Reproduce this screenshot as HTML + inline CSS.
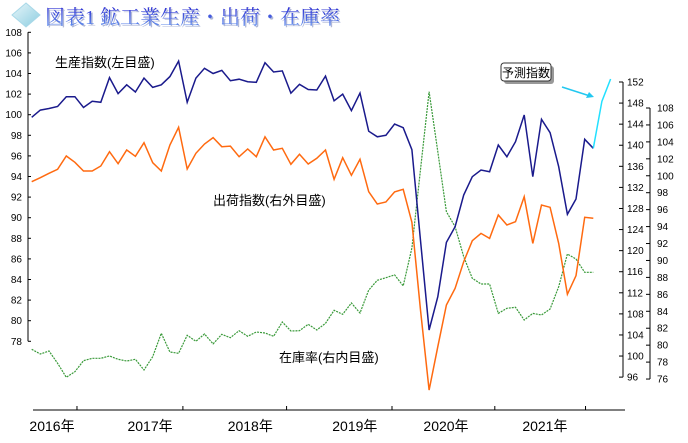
<!DOCTYPE html>
<html><head><meta charset="utf-8">
<style>
html,body{margin:0;padding:0;background:#fff;}
body{width:688px;height:443px;overflow:hidden;position:relative;font-family:"Liberation Sans","Noto Sans CJK JP",sans-serif;}
svg{position:absolute;left:0;top:0;}
</style></head>
<body>
<svg id="chart" width="688" height="443" viewBox="0 0 688 443">
<defs>
<linearGradient id="tg" x1="0" y1="0" x2="0" y2="1">
<stop offset="0" stop-color="#2a2ad0"/><stop offset="1" stop-color="#6a9cf0"/>
</linearGradient>
<linearGradient id="dg" x1="0" y1="0" x2="1" y2="1">
<stop offset="0" stop-color="#e8f6fa"/><stop offset="1" stop-color="#8ccde0"/>
</linearGradient>
</defs>
<g>
<polygon points="26,3 40,15 26,27 12,15" fill="url(#dg)" stroke="#a8d8e8"/>
<text x="45" y="24" font-family="'Liberation Serif','Noto Serif CJK SC',serif" font-size="20" fill="#b0b8d8" transform="translate(1.5,1.5)">図表1 鉱工業生産・出荷・在庫率</text>
<text x="45" y="24" font-family="'Liberation Serif','Noto Serif CJK SC',serif" font-size="20" fill="url(#tg)">図表1 鉱工業生産・出荷・在庫率</text>
</g>
<g id="axes"></g>
<g id="series"></g>
<text x="55" y="67" font-size="13" fill="#000">生産指数(左目盛)</text>
<text x="213" y="205" font-size="13" fill="#000">出荷指数(右外目盛)</text>
<text x="279" y="362" font-size="13" fill="#000">在庫率(右内目盛)</text>
<g>
<rect x="504" y="66" width="50" height="18" rx="3" fill="#999"/>
<rect x="501" y="63" width="50" height="18" rx="3" fill="#fff" stroke="#333"/>
<text x="526" y="77" font-size="12" text-anchor="middle" fill="#000">予測指数</text>
<line x1="562" y1="87" x2="590" y2="96" stroke="#22c8f0" stroke-width="1.5"/>
<polygon points="594,97 586,98 589,92" fill="#22c8f0"/>
</g>
</svg>
<script>
const prodValues=[99.75,100.45,100.6,100.8,101.75,101.75,100.7,101.3,101.2,103.6,102.05,102.9,102.2,103.55,102.65,102.9,103.7,105.2,101.2,103.55,104.5,104,104.3,103.3,103.45,103.2,103.15,105.05,104.15,104.25,102.1,102.95,102.45,102.4,103.75,101.35,102,100.4,102.1,98.4,97.85,98,99.1,98.74,96.6,87.8,79.1,82.33,87.6,89.13,92.2,93.98,94.63,94.47,97.06,95.92,97.38,99.97,93.98,99.55,98.25,94.95,90.33,91.82,97.61,96.74];
const forecastValues=[96.74,101.3,103.47];
const forecastStart=65;
const shipValues=[99.3,99.77,100.29,100.76,102.33,101.59,100.56,100.56,101.15,102.84,101.42,103.04,102.3,103.9,101.54,100.56,103.63,105.72,100.8,102.65,103.75,104.5,103.43,103.5,102.25,103.16,102.25,104.6,103.04,103.24,101.35,102.53,101.39,102.06,103.04,99.58,102.13,100.06,101.94,98.12,96.67,96.9,98.1,98.4,94.5,84.15,74.7,79.82,84.74,86.71,89.85,92.33,93.2,92.61,95.37,94.19,94.58,97.53,92.02,96.55,96.28,92.02,86,88.2,95.1,94.98];
const invValues=[101.28,100.39,100.96,98.62,95.97,97.03,99.12,99.57,99.57,100.01,99.38,99.06,99.38,97.35,99.88,104.32,100.77,100.52,103.93,102.8,104.18,102.3,104.13,103.48,104.81,103.75,104.56,104.37,103.75,106.46,104.75,104.81,106.02,104.94,106.21,108.67,107.92,110.06,108.16,112.52,114.37,114.86,115.4,113.3,120.5,135.4,150.16,138.78,127.39,124.54,118.85,114.75,113.67,113.67,108.1,109.06,109.25,106.84,108.1,107.79,108.93,113.16,119.36,118.41,115.89,115.89];
const leftTicks=[78,80,82,84,86,88,90,92,94,96,98,100,102,104,106,108];
const innerTicks=[96,100,104,108,112,116,120,124,128,132,136,140,144,148,152];
const outerTicks=[76,78,80,82,84,86,88,90,92,94,96,98,100,102,104,106,108];
const yearLabels=["2016年","2017年","2018年","2019年","2020年","2021年"];
const yearCenters=[2.35,13.7,25.3,37.4,47.95,59.4];
const yearTicks=[5.24,17.5,29.5,41.7,53.6,64.1];

const NS="http://www.w3.org/2000/svg";
const xi=i=>31.7+i*8.64;
const yL=v=>32.3+(108-v)*10.3;
const yO=v=>108+(108-v)*8.47;
const yI=v=>82+(152-v)*5.27;
function mk(tag,attrs,parent){const e=document.createElementNS(NS,tag);for(const k in attrs)e.setAttribute(k,attrs[k]);parent.appendChild(e);return e;}
const axes=document.getElementById('axes');
const ser=document.getElementById('series');

let la=mk('line',{x1:28,y1:yL(108),x2:28,y2:yL(78),stroke:'#000'},axes);


leftTicks.forEach(v=>{
 const t=mk('line',{x1:28,y1:yL(v),x2:31,y2:yL(v),stroke:'#000'},axes);
 
 
 const l=mk('text',{x:22,y:yL(v)+3.5,'font-size':10,'text-anchor':'end',fill:'#000'},axes);
 l.textContent=v;
 
 
});
let ia=mk('line',{x1:623,y1:yI(152),x2:623,y2:yI(96),stroke:'#000'},axes);


innerTicks.forEach(v=>{
 const t=mk('line',{x1:619,y1:yI(v),x2:623,y2:yI(v),stroke:'#000'},axes);
 
 
 const l=mk('text',{x:627,y:yI(v)+3.5,'font-size':10,fill:'#000'},axes);
 l.textContent=v;
 
 
});
let oa=mk('line',{x1:650,y1:yO(108),x2:650,y2:yO(76),stroke:'#000'},axes);


outerTicks.forEach(v=>{
 const t=mk('line',{x1:646,y1:yO(v),x2:650,y2:yO(v),stroke:'#000'},axes);
 
 
 const l=mk('text',{x:657,y:yO(v)+3.5,'font-size':10,fill:'#000'},axes);
 l.textContent=v;
 
 
});
let xa=mk('line',{x1:33,y1:410,x2:625,y2:410,stroke:'#000'},axes);


yearTicks.forEach(p=>{
 const t=mk('line',{x1:xi(p),y1:406,x2:xi(p),y2:410,stroke:'#000'},axes);
 
 
});
yearLabels.forEach((s,i)=>{
 const l=mk('text',{x:xi(yearCenters[i]),y:431,'font-size':14,'text-anchor':'middle',fill:'#000'},axes);
 l.textContent=s;
 
 
});
function pts(arr,yf,off){return arr.map((v,i)=>xi(i+off).toFixed(1)+','+yf(v).toFixed(1)).join(' ');}
const gi=mk('polyline',{points:pts(invValues,yI,0),fill:'none',stroke:'#3a9a3a','stroke-width':1.2,'stroke-dasharray':'2,1'},ser);


const go=mk('polyline',{points:pts(shipValues,yO,0),fill:'none',stroke:'#ff6a10','stroke-width':1.5},ser);


const gp=mk('polyline',{points:pts(prodValues,yL,0),fill:'none',stroke:'#1a1a8c','stroke-width':1.5},ser);


const gf=mk('polyline',{points:pts(forecastValues,yL,forecastStart),fill:'none',stroke:'#22e0ff','stroke-width':1.5},ser);


</script>
</body></html>
